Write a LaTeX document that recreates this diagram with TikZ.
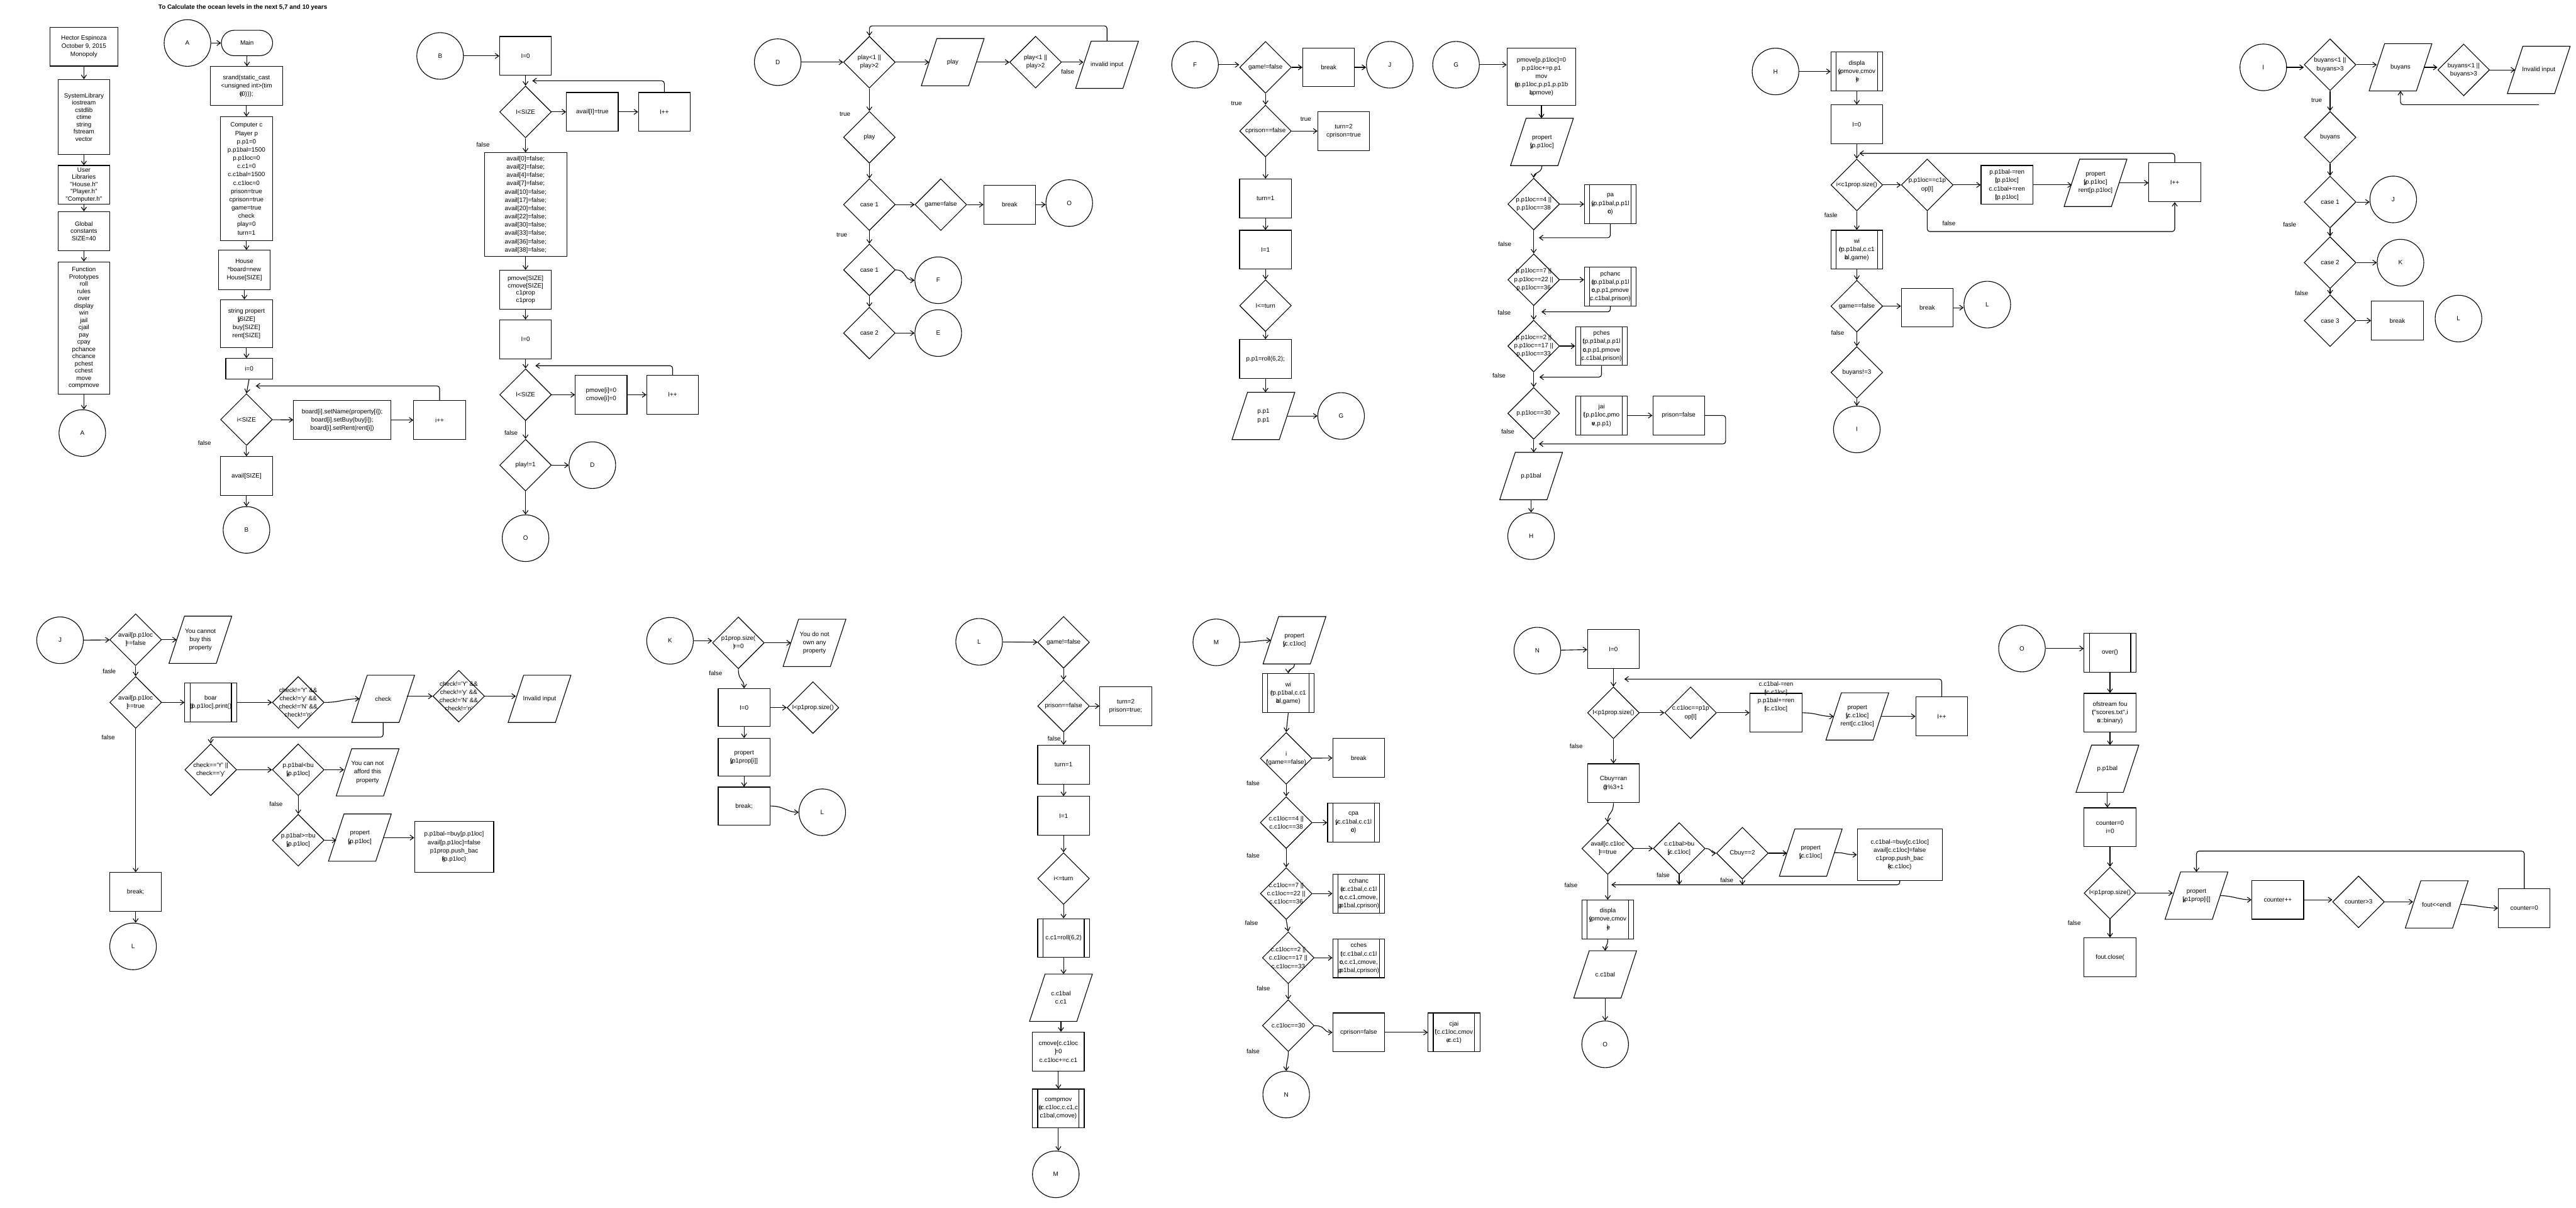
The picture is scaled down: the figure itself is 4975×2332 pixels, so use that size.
\documentclass[tikz,border=0pt]{standalone}
\usepackage{fontspec}
\newfontfamily\flowfont{Liberation Sans}
\usetikzlibrary{shapes.geometric, arrows.meta}
% first letter of a wrapped line printed over the next one
\newcommand\olap[1]{\rlap{#1}}
\newcommand\flowdec[3]{\node[decn] (#1) at (#2) {};
  \node[txt] (#1t) at (#1) {#3};}
\newcommand\flowio[3]{\node[iorect] (#1) at (#2) {#3};
  \draw ([xshift=3mm]#1.north west) -- ([xshift=3mm]#1.north east)
    -- ([xshift=-3mm]#1.south east) -- ([xshift=-3mm]#1.south west) -- cycle;}
\begin{document}
\begin{tikzpicture}[x=0.2mm, y=-0.2mm, line width=0.27mm,
    font=\flowfont\fontsize{6.83}{9.1}\selectfont,
    >={Straight Barb[length=1.4mm,width=2mm]}]
    \tikzset{box/.style={draw, rectangle, minimum width=20mm, minimum height=15mm, inner sep=0pt, align=center},
             sub/.style={box, path picture={\draw[line width=0.27mm]
               ([xshift=2mm]path picture bounding box.north west) -- ([xshift=2mm]path picture bounding box.south west)
               ([xshift=-2mm]path picture bounding box.north east) -- ([xshift=-2mm]path picture bounding box.south east);}},
             decn/.style={draw, diamond, minimum width=20mm, minimum height=20mm, inner sep=0pt},
             iorect/.style={rectangle, minimum width=18mm, minimum height=18mm, inner sep=0pt, align=center},
             conn/.style={draw, circle, minimum size=18mm, inner sep=0pt},
             term/.style={draw, rectangle, rounded corners=4.9mm, minimum width=19.8mm, minimum height=9.8mm},
             txt/.style={inner sep=0pt, align=center},
             lbl/.style={inner sep=0pt},
             tight/.style={font=\flowfont\fontsize{6.83}{7.97}\selectfont}}
    \path[use as bounding box, fill=white] (0,0) rectangle (4975,2332);
    \node[font=\flowfont\bfseries\fontsize{6.83}{9.1}\selectfont] (title) at (469,15)
      {To Calculate the ocean levels in the next 5,7 and 10 years};

    % header
    \node[box, minimum width=26.2mm] (hect) at (162,90) {Hector Espinoza\\October 9, 2015\\Monopoly};
    \node[box, tight, minimum height=29mm] (syslib) at (162,226) {SystemLibrary\\iostream\\cstdlib\\ctime\\string\\fstream\\vector};
    \node[box, tight] (userlib) at (162,357) {User\\Libraries\\"House.h"\\"Player.h"\\"Computer.h"};
    \node[box, tight] (glob) at (162,446) {Global\\constants\\SIZE=40};
    \node[box, tight, minimum height=51mm] (func) at (162,633) {Function\\Prototypes\\roll\\rules\\over\\display\\win\\jail\\cjail\\pay\\cpay\\pchance\\chcance\\pchest\\cchest\\move\\compmove};
    \node[conn] (cA1) at (159,836) {A};
    \draw[->] (hect) -- (syslib);
    \draw[->] (syslib) -- (userlib);
    \draw[->] (userlib) -- (glob);
    \draw[->] (glob) -- (func);
    \draw[->] (func.south) -- (func.south |- cA1.north);

    % main
    \node[conn] (cA2) at (362,83) {A};
    \node[term] (main) at (477,83) {Main};
    \node[box, minimum width=28mm] (srand) at (476,166) {srand(static\_cast\\<unsigned int>(tim\\\olap{e}(0)));};
    \node[box, minimum height=47.8mm] (comp) at (476,345) {Computer c\\Player p\\p.p1=0\\p.p1bal=1500\\p.p1loc=0\\c.c1=0\\c.c1bal=1500\\c.c1loc=0\\prison=true\\cprison=true\\game=true\\check\\play=0\\turn=1};
    \node[box, minimum height=15.2mm] (house) at (472,521) {House\\*board=new\\House[SIZE]};
    \node[box, minimum height=18.6mm] (strp) at (476,625) {string propert\\\olap{y}[SIZE]\\buy[SIZE]\\rent[SIZE]};
    \node[box, minimum width=18mm, minimum height=8mm] (i0) at (481,712) {i=0};
    \flowdec{dsz}{476,810}{i<SIZE}
    \node[box, minimum width=37.6mm] (bset) at (661,811) {board[i].setName(property[i]);\\board[i].setBuy(buy[i]);\\board[i].setRent(rent[i])};
    \node[box] (ipp) at (849,811) {i++};
    \node[box] (avl) at (476,919) {avail[SIZE]};
    \node[conn] (cB1) at (476,1023) {B};
    \node[lbl] (s2f) at (395,855) {false};
    \coordinate (s2l) at (494,745);
    \draw[->] (cA2) -- (main);
    \draw[->] (main.south) -- (main.south |- srand.north);
    \draw[->] (srand) -- (comp);
    \draw[->] (comp.south) -- (comp.south |- house.north);
    \draw[->] (house.south) -- (house.south |- strp.north);
    \draw[->] (strp.south) -- (strp.south |- i0.north);
    \draw[->] (i0.south) -- (dsz.north);
    \draw[->] (dsz) -- (bset);
    \draw[->] (bset) -- (ipp);
    \draw[->, rounded corners=1mm] (ipp.north) |- (s2l);
    \draw[->] (dsz) -- (avl);
    \draw[->] (avl) -- (cB1);

    % B
    \node[conn] (cB2) at (850,108) {B};
    \node[box] (s3i0) at (1015,108) {I=0};
    \flowdec{s3d1}{1015,216}{I<SIZE}
    \node[box] (s3at) at (1144,216) {avail[I]=true};
    \node[box] (s3ip) at (1283,216) {I++};
    \node[box, minimum width=31.8mm, minimum height=40mm] (s3av) at (1015,395) {avail[0]=false;\\avail[2]=false;\\avail[4]=false;\\avail[7]=false;\\avail[10]=false;\\avail[17]=false;\\avail[20]=false;\\avail[22]=false;\\avail[30]=false;\\avail[33]=false;\\avail[36]=false;\\avail[38]=false;};
    \node[box, tight] (s3pm) at (1015,559) {pmove[SIZE]\\cmove[SIZE]\\c1prop\\c1prop};
    \node[box] (s3i0b) at (1015,655) {I=0};
    \flowdec{s3d2}{1015,762}{I<SIZE}
    \node[box] (s3pi) at (1161,762) {pmove[i]=0\\cmove[i]=0};
    \node[box] (s3ipb) at (1299,762) {I++};
    \flowdec{s3d3}{1015,898}{play!=1}
    \node[conn] (cD1) at (1144,898) {D};
    \node[conn] (cO1) at (1015,1039) {O};
    \node[lbl] (s3f1) at (933,279) {false};
    \node[lbl] (s3f2) at (987,836) {false};
    \coordinate (s3l1) at (1028,156);
    \coordinate (s3l2) at (1034,706);
    \draw[->] (cB2) -- (s3i0);
    \draw[->] (s3i0) -- (s3d1);
    \draw[->] (s3d1) -- (s3at);
    \draw[->] (s3at) -- (s3ip);
    \draw[->, rounded corners=1mm] (s3ip.north) |- (s3l1);
    \draw[->] (s3d1) -- (s3av);
    \draw[->] (s3av) -- (s3pm);
    \draw[->] (s3pm) -- (s3i0b);
    \draw[->] (s3i0b) -- (s3d2);
    \draw[->] (s3d2) -- (s3pi);
    \draw[->] (s3pi) -- (s3ipb);
    \draw[->, rounded corners=1mm] (s3ipb.north) |- (s3l2);
    \draw[->] (s3d2) -- (s3d3);
    \draw[->] (s3d3) -- (cD1);
    \draw[->] (s3d3) -- (cO1);

    % D
    \node[conn] (cD2) at (1502,120) {D};
    \flowdec{s4d1}{1679,120}{play<1 ||\\play>2}
    \flowio{s4pl}{1840,120}{play}
    \flowdec{s4d2}{2000,120}{play<1 ||\\play>2}
    \flowio{s4inv}{2138,125}{invalid input}
    \node[lbl] (s4f) at (2062,139) {false};
    \coordinate (s4top) at (1679,50);
    \node[lbl] (s4t1) at (1632,220) {true};
    \flowdec{s4pd}{1679,265}{play}
    \flowdec{s4c1}{1679,395}{case 1}
    \flowdec{s4gf}{1817,395}{game=false}
    \node[box] (s4br) at (1950,395) {break};
    \node[conn] (cO2) at (2065,392) {O};
    \node[lbl] (s4t2) at (1626,453) {true};
    \flowdec{s4c1b}{1679,521}{case 1}
    \node[conn] (cF1) at (1812,541) {F};
    \flowdec{s4c2}{1679,643}{case 2}
    \node[conn] (cE1) at (1812,643) {E};
    \draw[->] (cD2) -- (s4d1);
    \draw[->] (s4d1) -- (s4pl);
    \draw[->] (s4pl) -- (s4d2);
    \draw[->] (s4d2.east) -- (s4d2.east -| s4inv.west);
    \draw[->, rounded corners=1mm] (s4inv.north) |- (s4top) -- (s4d1.north);
    \draw[->] (s4d1) -- (s4pd);
    \draw[->] (s4pd) -- (s4c1);
    \draw[->] (s4c1) -- (s4gf);
    \draw[->] (s4gf) -- (s4br);
    \draw[->] (s4br.east) -- (s4br.east -| cO2.west);
    \draw[->] (s4c1) -- (s4c1b);
    \draw[->] (s4c1b.east) .. controls +(22,0) and +(-22,0) .. (cF1.west);
    \draw[->] (s4c1b) -- (s4c2);
    \draw[->] (s4c2) -- (cE1);

    % F
    \node[conn] (cF2) at (2308,125) {F};
    \flowdec{s5d1}{2444,130}{game!=false}
    \node[box] (s5br) at (2566,130) {break};
    \node[conn] (cJ1) at (2684,125) {J};
    \node[lbl] (s5t1) at (2388,200) {true};
    \flowdec{s5d2}{2444,253}{cprison==false}
    \node[lbl] (s5t2) at (2522,230) {true};
    \node[box] (s5tp) at (2595,253) {turn=2\\cprison=true};
    \node[box] (s5tn) at (2444,383) {turn=1};
    \node[box] (s5i1) at (2444,482) {I=1};
    \flowdec{s5d3}{2444,590}{I<=turn}
    \node[box] (s5rl) at (2444,693) {p.p1=roll(6,2);};
    \flowio{s5out}{2440,803}{p.p1\\p.p1}
    \node[conn] (cG1) at (2590,803) {G};
    \draw[->] (cF2.east) -- (cF2.east -| s5d1.west);
    \draw[->] (s5d1) -- (s5br);
    \draw[->] (s5br.east) -- (s5br.east -| cJ1.west);
    \draw[->] (s5d1) -- (s5d2);
    \draw[->] (s5d2) -- (s5tp);
    \draw[->] (s5d2) -- (s5tn);
    \draw[->] (s5tn) -- (s5i1);
    \draw[->] (s5i1) -- (s5d3);
    \draw[->] (s5d3) -- (s5rl);
    \draw[->] (s5rl.south) -- (s5rl.south |- s5out.north);
    \draw[->] (s5out) -- (cG1);

    % G
    \node[conn] (cG2) at (2812,125) {G};
    \node[box, minimum width=26.6mm, minimum height=22mm] (s6mv) at (2977,148) {pmove[p.p1loc]=0\\p.p1loc+=p.p1\\mov\\\olap{e}(p.p1loc,p.p1,p.p1b\\\olap{a}l,pmove)};
    \flowio{s6pr}{2978,274}{propert\\\olap{y}[p.p1loc]}
    \flowdec{s6d1}{2962,394}{p.p1loc==4 ||\\p.p1loc==38}
    \node[sub] (s6pa) at (3110,394) {pa\\\olap{y}(p.p1bal,p.p1l\\\olap{o}c)};
    \node[lbl] (s6f1) at (2906,471) {false};
    \flowdec{s6d2}{2962,540}{p.p1loc==7 ||\\p.p1loc==22 ||\\p.p1loc==36}
    \node[sub] (s6pc) at (3110,553) {pchanc\\\olap{e}(p.p1bal,p.p1l\\\olap{o}c,p.p1,pmove\\\olap{,}c.c1bal,prison)};
    \node[lbl] (s6f2) at (2905,603) {false};
    \flowdec{s6d3}{2962,668}{p.p1loc==2 ||\\p.p1loc==17 ||\\p.p1loc==33}
    \node[sub] (s6ps) at (3093,668) {pches\\\olap{t}(p.p1bal,p.p1l\\\olap{o}c,p.p1,pmove\\\olap{,}c.c1bal,prison)};
    \node[lbl] (s6f3) at (2895,725) {false};
    \flowdec{s6d4}{2962,798}{p.p1loc==30}
    \node[sub] (s6ja) at (3093,802) {jai\\\olap{l}(p.p1loc,pmo\\\olap{v}e,p.p1)};
    \node[box] (s6pf) at (3242,802) {prison=false};
    \node[lbl] (s6f4) at (2912,833) {false};
    \flowio{s6bal}{2957,919}{p.p1bal}
    \node[conn] (cH1) at (2957,1035) {H};
    \coordinate (s6r1) at (2972,459);
    \coordinate (s6r2) at (2977,602);
    \coordinate (s6r3) at (2973,728);
    \coordinate (s6r4) at (2972,857);
    \draw[->] (cG2.east) -- (cG2.east -| s6mv.west);
    \draw[->] (s6mv.south) -- (s6mv.south |- s6pr.north);
    \draw[->] (s6pr.south) .. controls +(0,16) and +(0,-12) .. (s6d1.north);
    \draw[->] (s6d1) -- (s6pa);
    \draw[->, rounded corners=1mm] (s6pa.south) |- (s6r1);
    \draw[->] (s6d1) -- (s6d2);
    \draw[->] (s6d2.east) -- (s6d2.east -| s6pc.west);
    \draw[->, rounded corners=1mm] (s6pc.south) |- (s6r2);
    \draw[->] (s6d2) -- (s6d3);
    \draw[->] (s6d3) -- (s6ps);
    \draw[->, rounded corners=1mm] (s6ps.south) |- (s6r3);
    \draw[->] (s6d3) -- (s6d4);
    \draw[->] (s6ja) -- (s6pf);
    \draw[->, rounded corners=1mm] (s6pf.east) -- ++(40,0) |- (s6r4);
    \draw[->] (s6d4.south) -- (s6d4.south |- s6bal.north);
    \draw[->] (s6bal) -- (cH1);

    % H
    \node[conn] (cH2) at (3429,138) {H};
    \node[sub] (s7ds) at (3586,138) {displa\\\olap{y}(pmove,cmov\\\olap{e})};
    \node[box] (s7i0) at (3586,240) {I=0};
    \flowdec{s7d1}{3586,357}{i<c1prop.size()}
    \flowdec{s7d2}{3722,357}{p.p1loc==c1p\\op[I]}
    \node[box] (s7bx) at (3876,357) {p.p1bal-=ren\\\olap{t}[p.p1loc]\\c.c1bal+=ren\\\olap{t}[p.p1loc]};
    \flowio{s7pr}{4047,353}{propert\\\olap{y}[p.p1loc]\\rent[p.p1loc]}
    \node[box] (s7ip) at (4200,352) {I++};
    \coordinate (s7l) at (3591,296);
    \coordinate (s7c) at (4200,447);
    \node[lbl] (s7f1) at (3764,431) {false};
    \node[lbl] (s7f2) at (3536,415) {fasle};
    \node[sub] (s7wi) at (3586,482) {wi\\\olap{n}(p.p1bal,c.c1\\\olap{b}al,game)};
    \flowdec{s7d3}{3586,591}{game==false}
    \node[box] (s7br) at (3722,594) {break};
    \node[conn] (cL1) at (3838,588) {L};
    \node[lbl] (s7f3) at (3549,642) {false};
    \flowdec{s7d4}{3586,719}{buyans!=3}
    \node[conn] (cI1) at (3586,829) {I};
    \draw[->] (cH2) -- (s7ds);
    \draw[->] (s7ds) -- (s7i0);
    \draw[->] (s7i0) -- (s7d1);
    \draw[->] (s7d1) -- (s7d2);
    \draw[->] (s7d2) -- (s7bx);
    \draw[->] (s7bx.east) -- (s7bx.east -| s7pr.west);
    \draw[->] (s7pr.east) -- (s7pr.east -| s7ip.west);
    \draw[->, rounded corners=1mm] (s7ip.north) |- (s7l);
    \draw[->, rounded corners=1mm] (s7d2.south) |- (s7c) -- (s7ip.south);
    \draw[->] (s7d1) -- (s7wi);
    \draw[->] (s7wi) -- (s7d3);
    \draw[->] (s7d3.east) -- (s7d3.east -| s7br.west);
    \draw[->] (s7br.east) -- (s7br.east -| cL1.west);
    \draw[->] (s7d3) -- (s7d4);
    \draw[->] (s7d4) -- (cI1);

    % I
    \node[conn] (cI2) at (4371,130) {I};
    \flowdec{s8d1}{4500,125}{buyans<1 ||\\buyans>3}
    \flowio{s8pb}{4636,130}{buyans}
    \flowdec{s8d2}{4758,135}{buyans<1 ||\\buyans>3}
    \flowio{s8inv}{4903,135}{Invalid input}
    \coordinate (s8c) at (4903,202);
    \node[lbl] (s8t) at (4474,193) {true};
    \flowdec{s8d3}{4500,265}{buyans}
    \flowdec{s8c1}{4500,390}{case 1}
    \node[conn] (cJ2) at (4622,385) {J};
    \node[lbl] (s8f1) at (4422,434) {fasle};
    \flowdec{s8c2}{4500,507}{case 2}
    \node[conn] (cK1) at (4636,507) {K};
    \node[lbl] (s8f2) at (4445,566) {false};
    \flowdec{s8c3}{4500,619}{case 3}
    \node[box] (s8br) at (4630,619) {break};
    \node[conn] (cL2) at (4748,615) {L};
    \draw[->] (cI2.east) -- (cI2.east -| s8d1.west);
    \draw[->] (s8d1.east) -- (s8d1.east -| s8pb.west);
    \draw[->] (s8pb.east) -- (s8pb.east -| s8d2.west);
    \draw[->] (s8d2) -- (s8inv);
    \draw[->, rounded corners=1mm] (s8c) -| (s8pb.south);
    \draw[->] (s8d1) -- (s8d3);
    \draw[->] (s8d3) -- (s8c1);
    \draw[->] (s8c1.east) -- (s8c1.east -| cJ2.west);
    \draw[->] (s8c1) -- (s8c2);
    \draw[->] (s8c2) -- (cK1);
    \draw[->] (s8c2) -- (s8c3);
    \draw[->] (s8c3) -- (s8br);

    % J
    \node[conn] (cJ3) at (116,1236) {J};
    \flowdec{s9d1}{262,1235}{avail[p.p1loc\\\olap{]}==false}
    \flowio{s9cb}{387,1235}{You cannot\\buy this\\property}
    \node[lbl] (s9f1) at (211,1296) {fasle};
    \flowdec{s9d2}{262,1356}{avail[p.p1loc\\\olap{]}==true}
    \node[sub] (s9bo) at (407,1356) {boar\\\olap{d}[p.p1loc].print()};
    \flowdec{s9d3}{576,1356}{check!='Y' \&\&\\check!='y' \&\&\\check!='N' \&\&\\check!='n'}
    \flowio{s9ck}{740,1349}{check}
    \flowdec{s9d4}{886,1344}{check!='Y' \&\&\\check!='y' \&\&\\check!='N' \&\&\\check!='n'}
    \flowio{s9inv}{1042,1349}{Invalid input}
    \coordinate (s9c) at (407,1423);
    \flowdec{s9d5}{407,1486}{check=='Y' ||\\check=='y'}
    \flowdec{s9d6}{576,1486}{p.p1bal<bu\\\olap{y}[p.p1loc]}
    \flowio{s9af}{710,1491}{You can not\\afford this\\property}
    \node[lbl] (s9f2) at (533,1552) {false};
    \flowdec{s9d7}{576,1622}{p.p1bal>=bu\\\olap{y}[p.p1loc]}
    \flowio{s9pr}{695,1617}{propert\\\olap{y}[p.p1loc]}
    \node[box, minimum width=30.6mm, minimum height=19.8mm] (s9bx) at (877,1635) {p.p1bal-=buy[p.p1loc]\\avail[p.p1loc]=false\\p1prop.push\_bac\\\olap{k}(p.p1loc)};
    \node[lbl] (s9f3) at (209,1424) {false};
    \node[box] (s9brk) at (262,1722) {break;};
    \node[conn] (cL3) at (257,1827) {L};
    \draw[->] (cJ3) -- (s9d1);
    \draw[->] (s9d1) -- (s9cb);
    \draw[->] (s9d1) -- (s9d2);
    \draw[->] (s9d2) -- (s9bo);
    \draw[->] (s9bo) -- (s9d3);
    \draw[->] (s9d3.east) .. controls +(30,0) and +(-30,0) .. (s9ck.west);
    \draw[->] (s9ck.east |- s9d4.west) -- (s9d4.west);
    \draw[->] (s9d4.east) -- (s9d4.east -| s9inv.west);
    \draw[->, rounded corners=1mm] (s9ck.south) |- (s9c) -- (s9d5.north);
    \draw[->] (s9d5) -- (s9d6);
    \draw[->] (s9d6.east) -- (s9d6.east -| s9af.west);
    \draw[->] (s9d6) -- (s9d7);
    \draw[->] (s9d7.east) -- (s9d7.east -| s9pr.west);
    \draw[->] (s9pr.east) -- (s9pr.east -| s9bx.west);
    \draw[->] (s9d2) -- (s9brk);
    \draw[->] (s9brk.south) -- (s9brk.south |- cL3.north);

    % K
    \node[conn] (cK2) at (1294,1237) {K};
    \flowdec{s10d1}{1426,1241}{p1prop.size(\\\olap{)}==0}
    \flowio{s10no}{1573,1241}{You do not\\own any\\property}
    \node[lbl] (s10f) at (1382,1299) {false};
    \node[box, minimum height=14.6mm] (s10i0) at (1437,1366) {I=0};
    \flowdec{s10d2}{1570,1366}{I<p1prop.size()}
    \node[box, minimum height=14.6mm] (s10pr) at (1437,1462) {propert\\\olap{y}[p1prop[i]]};
    \node[box, minimum height=14.6mm] (s10br) at (1437,1556) {break;};
    \node[conn] (cL4) at (1588,1568) {L};
    \draw[->] (cK2.east) -- (cK2.east -| s10d1.west);
    \draw[->] (s10d1) -- (s10no);
    \draw[->] (s10d1.south) .. controls +(0,24) and +(0,-20) .. (s10i0.north);
    \draw[->] (s10i0) -- (s10d2);
    \draw[->] (s10i0) -- (s10pr);
    \draw[->] (s10pr) -- (s10br);
    \draw[->] (s10br.east) .. controls +(28,0) and +(-24,0) .. (cL4.west);

    % L
    \node[conn] (cL5) at (1891,1239) {L};
    \flowdec{s11d1}{2054,1240}{game!=false}
    \flowdec{s11d2}{2054,1363}{prison==false}
    \node[box] (s11tp) at (2174,1363) {turn=2\\prison=true;};
    \node[lbl] (s11f) at (2036,1426) {false};
    \node[box] (s11tn) at (2054,1476) {turn=1};
    \node[box] (s11i1) at (2054,1575) {I=1};
    \flowdec{s11d3}{2054,1696}{i<=turn}
    \node[sub] (s11rl) at (2054,1811) {c.c1=roll(6,2)};
    \flowio{s11out}{2049,1926}{c.c1bal\\c.c1}
    \node[box] (s11cm) at (2044,2030) {cmove[c.c1loc\\\olap{]}=0\\c.c1loc+=c.c1};
    \node[sub] (s11cp) at (2044,2140) {compmov\\\olap{e}(c.c1loc,c.c1,c\\\olap{.}c1bal,cmove)};
    \node[conn] (cM1) at (2039,2267) {M};
    \draw[->] (cL5) -- (s11d1);
    \draw[->] (s11d1) -- (s11d2);
    \draw[->] (s11d2) -- (s11tp);
    \draw[->] (s11d2) -- (s11tn);
    \draw[->] (s11tn) -- (s11i1);
    \draw[->] (s11i1) -- (s11d3);
    \draw[->] (s11d3) -- (s11rl);
    \draw[->] (s11rl.south) -- (s11rl.south |- s11out.north);
    \draw[->] (s11out.south) -- (s11out.south |- s11cm.north);
    \draw[->] (s11cm) -- (s11cp);
    \draw[->] (s11cp.south) -- (s11cp.south |- cM1.north);

    % M
    \node[conn] (cM2) at (2349,1240) {M};
    \flowio{s12pr}{2500,1236}{propert\\\olap{y}[c.c1loc]}
    \node[sub] (s12wi) at (2488,1338) {wi\\\olap{n}(p.p1bal,c.c1\\\olap{b}al,game)};
    \flowdec{s12d1}{2484,1464}{i\\\olap{f}(game==false)}
    \node[box] (s12br) at (2624,1463) {break};
    \node[lbl] (s12f1) at (2420,1512) {false};
    \flowdec{s12d2}{2484,1588}{c.c1loc==4 ||\\c.c1loc==38}
    \node[sub] (s12cpa) at (2614,1588) {cpa\\\olap{y}(c.c1bal,c.c1l\\\olap{o}c)};
    \node[lbl] (s12f2) at (2420,1652) {false};
    \flowdec{s12d3}{2484,1725}{c.c1loc==7 ||\\c.c1loc==22 ||\\c.c1loc==36}
    \node[sub] (s12cc) at (2624,1725) {cchanc\\\olap{e}(c.c1bal,c.c1l\\\olap{o}c,c.c1,cmove,\\\olap{p}.p1bal,cprison)};
    \node[lbl] (s12f3) at (2417,1782) {false};
    \flowdec{s12d4}{2488,1849}{c.c1loc==2 ||\\c.c1loc==17 ||\\c.c1loc==33}
    \node[sub] (s12ch) at (2624,1850) {cches\\\olap{t}(c.c1bal,c.c1l\\\olap{o}c,c.c1,cmove,\\\olap{p}.p1bal,cprison)};
    \node[lbl] (s12f4) at (2440,1908) {false};
    \flowdec{s12d5}{2488,1980}{c.c1loc==30}
    \node[box] (s12cp) at (2624,1993) {cprison=false};
    \node[sub] (s12cj) at (2808,1993) {cjai\\\olap{l}(c.c1loc,cmov\\\olap{e},c.c1)};
    \node[lbl] (s12f5) at (2420,2030) {false};
    \node[conn] (cN1) at (2484,2113) {N};
    \draw[->] (cM2.east) .. controls +(26,0) and +(-26,0) .. (s12pr.west);
    \draw[->] (s12pr.south) .. controls +(0,12) and +(0,-10) .. (s12wi.north);
    \draw[->] (s12wi.south) -- (s12d1.north);
    \draw[->] (s12d1) -- (s12br);
    \draw[->] (s12d1) -- (s12d2);
    \draw[->] (s12d2) -- (s12cpa);
    \draw[->] (s12d2) -- (s12d3);
    \draw[->] (s12d3) -- (s12cc);
    \draw[->] (s12d3.south) -- (s12d4.north);
    \draw[->] (s12d4.east) -- (s12d4.east -| s12ch.west);
    \draw[->] (s12d4) -- (s12d5);
    \draw[->] (s12d5.east) .. controls +(24,0) and +(-20,0) .. (s12cp.west);
    \draw[->] (s12cp) -- (s12cj);
    \draw[->] (s12d5.south) .. controls +(0,18) and +(0,-18) .. (cN1.north);

    % N
    \node[conn] (cN2) at (2969,1256) {N};
    \node[box] (s13i0) at (3116,1253) {I=0};
    \flowdec{s13d1}{3116,1376}{I<p1prop.size()}
    \flowdec{s13d2}{3265,1376}{c.c1loc==p1p\\op[I]}
    \node[box, minimum width=20.2mm] (s13bx) at (3430,1376) {};
    \node[txt] (s13bxt) at (3430,1345) {c.c1bal-=ren\\\olap{t}[c.c1loc]\\p.p1bal+=ren\\\olap{t}[c.c1loc]};
    \flowio{s13pr}{3587,1383}{propert\\\olap{y}[c.c1loc]\\rent[c.c1loc]}
    \node[box] (s13ip) at (3750,1383) {I++};
    \coordinate (s13l) at (3137,1311);
    \node[lbl] (s13f1) at (3044,1441) {false};
    \node[box] (s13cb) at (3116,1512) {Cbuy=ran\\\olap{d}()\%3+1};
    \flowdec{s13d3}{3105,1638}{avail[c.c1loc\\\olap{]}==true}
    \flowdec{s13d4}{3243,1638}{c.c1bal>bu\\\olap{y}[c.c1loc]}
    \flowdec{s13d5}{3365,1647}{Cbuy==2}
    \flowio{s13pr2}{3497,1646}{propert\\\olap{y}[c.c1loc]}
    \node[box, minimum width=32.8mm, minimum height=19.8mm] (s13bx2) at (3669,1650) {c.c1bal-=buy[c.c1loc]\\avail[c.c1loc]=false\\c1prop.push\_bac\\\olap{k}(c.c1loc)};
    \coordinate (s13r) at (3112,1708);
    \node[lbl] (s13f2) at (3212,1689) {false};
    \node[lbl] (s13f3) at (3335,1699) {false};
    \node[lbl] (s13f4) at (3034,1709) {false};
    \node[sub] (s13ds) at (3105,1775) {displa\\\olap{y}(pmove,cmov\\\olap{e})};
    \flowio{s13bal}{3100,1881}{c.c1bal}
    \node[conn] (cO3) at (3100,2016) {O};
    \draw[->] (cN2) -- (s13i0);
    \draw[->] (s13i0) -- (s13d1);
    \draw[->] (s13d1) -- (s13d2);
    \draw[->] (s13d2) -- (s13bx);
    \draw[->] (s13bx.east) .. controls +(28,0) and +(-28,0) .. (s13pr.west);
    \draw[->] (s13pr) -- (s13ip);
    \draw[->, rounded corners=1mm] (s13ip.north) |- (s13l);
    \draw[->] (s13d1) -- (s13cb);
    \draw[->] (s13cb.south) .. controls +(0,22) and +(0,-20) .. (s13d3.north);
    \draw[->] (s13d3) -- (s13d4);
    \draw[->] (s13d4.east) .. controls +(14,0) and +(-12,0) .. (s13d5.west);
    \draw[->] (s13d5.east) -- (s13d5.east -| s13pr2.west);
    \draw[->] (s13pr2.east) .. controls +(26,0) and +(-26,0) .. (s13bx2.west);
    \draw[->, rounded corners=1mm] (s13bx2.south) |- (s13r);
    \draw[->] (s13d4.south) -- (s13d4.south |- s13r);
    \draw[->] (s13d5.south) -- (s13d5.south |- s13r);
    \draw[->] (s13d3.south) .. controls +(0,30) and +(0,-16) .. (s13ds.north);
    \draw[->] (s13ds.south) .. controls +(0,14) and +(0,-10) .. (s13bal.north);
    \draw[->] (s13bal) -- (cO3);

    % O
    \node[conn] (cO4) at (3905,1252) {O};
    \node[sub] (s14ov) at (4075,1260) {over()};
    \node[box] (s14of) at (4075,1376) {ofstream fou\\\olap{t}("scores.txt",i\\\olap{o}s::binary)};
    \flowio{s14bal}{4070,1484}{p.p1bal}
    \node[box] (s14cnt) at (4075,1597) {counter=0\\i=0};
    \flowdec{s14d1}{4075,1724}{I<p1prop.size()}
    \flowio{s14pr}{4242,1729}{propert\\\olap{y}[p1prop[i]]}
    \node[box] (s14cp) at (4399,1737) {counter++};
    \flowdec{s14d2}{4555,1741}{counter>3}
    \flowio{s14fo}{4706,1746}{fout<<endl}
    \node[box] (s14c0) at (4875,1753) {counter=0};
    \coordinate (s14l) at (4242,1643);
    \node[lbl] (s14f) at (4006,1782) {false};
    \node[box] (s14cl) at (4075,1848) {fout.close(};
    \draw[->] (cO4.east) -- (cO4.east -| s14ov.west);
    \draw[->] (s14ov) -- (s14of);
    \draw[->] (s14of.south) -- (s14of.south |- s14bal.north);
    \draw[->] (s14bal.south) -- (s14bal.south |- s14cnt.north);
    \draw[->] (s14cnt) -- (s14d1);
    \draw[->] (s14d1.east) -- (s14d1.east -| s14pr.west);
    \draw[->] (s14pr.east) .. controls +(24,0) and +(-24,0) .. (s14cp.west);
    \draw[->] (s14cp.east) -- (s14cp.east -| s14d2.west);
    \draw[->] (s14d2.east) -- (s14d2.east -| s14fo.west);
    \draw[->] (s14fo.east) .. controls +(26,0) and +(-26,0) .. (s14c0.west);
    \draw[->, rounded corners=1mm] (s14c0.north) |- (s14l) -- (s14pr.north);
    \draw[->] (s14d1) -- (s14cl);
\end{tikzpicture}
\end{document}
